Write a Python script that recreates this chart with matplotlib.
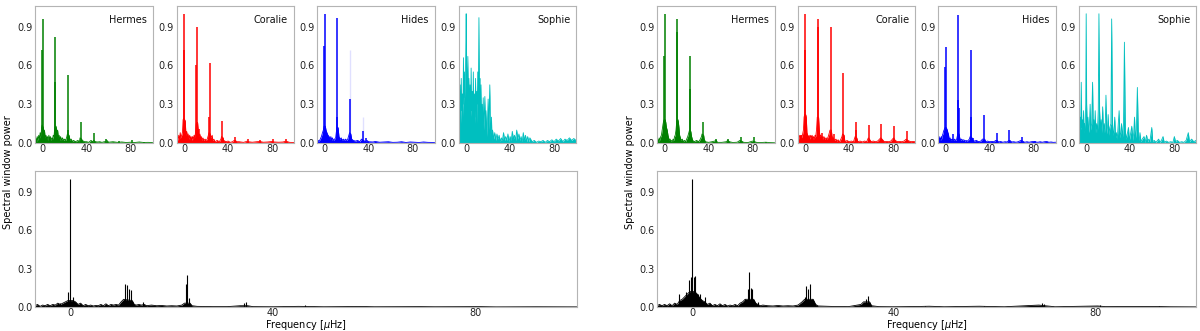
import matplotlib
matplotlib.use('Agg')
import matplotlib.pyplot as plt

# ---------------- data ----------------
site_names = ['Hermes', 'Coralie', 'Hides', 'Sophie']
site_colors = ['#008000', '#ff0000', '#0000ff', '#00bfbf']
freq_ticks = [0, 40, 80]
power_ticks = [0.0, 0.3, 0.6, 0.9]
freq_limits = (-7, 100)
power_limits = (0, 1.06)

# ---- left group ----
hermes_a_peaks = [(-0.4, 0.72), (0.0, 0.96), (11.2, 0.47), (11.6, 0.82), (22.9, 0.10), (23.2, 0.53),
                  (34.7, 0.16), (46.3, 0.08), (57.9, 0.03), (69.4, 0.015), (81.0, 0.02), (92.6, 0.01)]
hermes_a_floor = [(-7, 0.02), (-6.3, 0.04), (-5.6, 0.01), (-5, 0.05), (-4.3, 0.02), (-3.6, 0.06), (-3, 0.03),
                  (-2.3, 0.08), (-1.6, 0.05), (-1, 0.12), (-0.5, 0.14), (0.5, 0.12), (1, 0.08), (1.6, 0.10),
                  (2.3, 0.04), (3, 0.06), (3.6, 0.03), (4.3, 0.05), (5, 0.02), (5.6, 0.06), (6.3, 0.03), (7, 0.05),
                  (7.6, 0.02), (8.3, 0.04), (9, 0.03), (9.6, 0.06), (10.3, 0.05), (11, 0.12), (12.2, 0.13),
                  (13, 0.08), (13.6, 0.10), (14.3, 0.04), (15, 0.06), (15.6, 0.02), (16.3, 0.05), (17, 0.02),
                  (18, 0.04), (19, 0.02), (20, 0.03), (21, 0.02), (22, 0.05), (22.5, 0.07), (24, 0.06), (25, 0.02),
                  (26, 0.03), (27, 0.01), (28, 0.02), (30, 0.01), (32, 0.02), (33.5, 0.01), (34, 0.04), (35.5, 0.03),
                  (36, 0.02), (38, 0.01), (40, 0.01), (42, 0.005), (44, 0.02), (45.5, 0.01), (46.5, 0.02),
                  (48, 0.01), (50, 0.008), (52, 0.01), (54, 0.005), (56, 0.01), (57.5, 0.01), (58.5, 0.02),
                  (60, 0.006), (64, 0.01), (68, 0.005), (72, 0.008), (76, 0.004), (80, 0.006), (84, 0.004),
                  (88, 0.008), (92, 0.004), (96, 0.005), (100, 0.003)]

coralie_a_peaks = [(-0.4, 0.72), (0.0, 1.0), (11.2, 0.6), (11.6, 0.9), (13.5, 0.11), (22.9, 0.2), (23.2, 0.62),
                   (34.7, 0.17), (46.3, 0.05), (57.9, 0.03), (69.4, 0.02), (81.0, 0.03), (92.6, 0.03)]
coralie_a_floor = [(-7, 0.02), (-6.3, 0.04), (-5.6, 0.02), (-5, 0.06), (-4.3, 0.03), (-3.6, 0.08), (-3, 0.04),
                   (-2.3, 0.06), (-1.6, 0.08), (-1, 0.18), (-0.5, 0.19), (0.5, 0.18), (1, 0.17), (1.6, 0.06),
                   (2.3, 0.09), (3, 0.04), (3.6, 0.07), (4.3, 0.03), (5, 0.06), (5.6, 0.03), (6.3, 0.05), (7, 0.02),
                   (7.6, 0.05), (8.3, 0.03), (9, 0.06), (9.6, 0.04), (10.3, 0.08), (11, 0.15), (12.2, 0.16),
                   (13, 0.08), (13.6, 0.05), (14.3, 0.07), (15, 0.03), (15.6, 0.05), (16.3, 0.02), (17, 0.04),
                   (18, 0.02), (19, 0.03), (20, 0.02), (21, 0.03), (22, 0.06), (22.6, 0.08), (23.8, 0.07),
                   (24.5, 0.04), (25.5, 0.06), (26, 0.02), (27, 0.03), (28, 0.01), (30, 0.02), (32, 0.01),
                   (33.5, 0.03), (34, 0.05), (35.5, 0.04), (36, 0.02), (38, 0.01), (40, 0.015), (42, 0.005),
                   (44, 0.01), (45.5, 0.02), (46.5, 0.02), (48, 0.01), (50, 0.01), (54, 0.005), (56, 0.01),
                   (57.5, 0.015), (58.5, 0.01), (62, 0.006), (66, 0.01), (69, 0.012), (72, 0.006), (76, 0.008),
                   (80, 0.012), (82, 0.008), (86, 0.006), (90, 0.008), (92.5, 0.015), (96, 0.005), (100, 0.004)]

hides_a_peaks = [(-0.3, 0.75), (0.0, 1.0), (11.3, 0.2), (11.6, 0.97), (23.2, 0.34), (34.7, 0.09), (38.0, 0.04)]
hides_a_faint = [(23.2, 0.72), (34.7, 0.2)]
hides_a_floor = [(-7, 0.01), (-6, 0.02), (-5, 0.015), (-4, 0.03), (-3, 0.05), (-2, 0.08), (-1.2, 0.1),
                 (-0.6, 0.13), (0.6, 0.13), (1.2, 0.1), (2, 0.08), (3, 0.06), (4, 0.05), (5, 0.03), (5.6, 0.05),
                 (6.3, 0.02), (7, 0.04), (8, 0.02), (9, 0.03), (10, 0.04), (10.8, 0.1), (11.2, 0.12),
                 (12.2, 0.12), (13, 0.05), (14, 0.03), (15, 0.04), (16, 0.02), (17, 0.03), (18, 0.02), (19, 0.03),
                 (20, 0.02), (21, 0.03), (22, 0.06), (22.7, 0.08), (23.8, 0.07), (24.6, 0.03), (26, 0.02),
                 (28, 0.015), (30, 0.02), (32, 0.01), (33.5, 0.03), (35.5, 0.02), (37, 0.01), (38.5, 0.02),
                 (40, 0.01), (44, 0.008), (46, 0.012), (50, 0.006), (54, 0.008), (58, 0.01), (62, 0.005),
                 (66, 0.006), (70, 0.01), (74, 0.004), (78, 0.008), (82, 0.006), (86, 0.004), (90, 0.008),
                 (94, 0.005), (100, 0.004)]

sophie_a_peaks = []
sophie_a_floor = [(-7, 0.35), (-6.5, 0.58), (-6, 0.2), (-5.5, 0.45), (-5, 0.15), (-4.5, 0.5), (-4, 0.25),
                  (-3.5, 0.38), (-3, 0.2), (-2.5, 0.66), (-2, 0.3), (-1.5, 0.55), (-1, 0.35), (-0.4, 0.7),
                  (0, 1.0), (0.4, 0.6), (1, 0.4), (1.5, 0.67), (2, 0.3), (2.5, 0.5), (3, 0.25), (3.5, 0.45),
                  (4, 0.2), (4.5, 0.58), (5, 0.25), (5.5, 0.4), (6, 0.2), (6.5, 0.55), (7, 0.2), (7.5, 0.38),
                  (8, 0.15), (8.5, 0.5), (9, 0.2), (9.5, 0.4), (10, 0.15), (10.5, 0.55), (11, 0.3), (11.6, 0.97),
                  (12, 0.4), (12.5, 0.5), (13, 0.2), (13.5, 0.45), (14, 0.15), (14.5, 0.3), (15, 0.12),
                  (15.5, 0.35), (16, 0.1), (17, 0.36), (17.5, 0.1), (18, 0.25), (19, 0.05), (20, 0.34),
                  (20.5, 0.1), (21.5, 0.45), (22, 0.05), (23, 0.2), (23.5, 0.02), (24, 0.1), (25, 0.03),
                  (26, 0.08), (27, 0.02), (28, 0.07), (29, 0.03), (30, 0.06), (31, 0.01), (32, 0.04), (33, 0.02),
                  (34, 0.08), (35, 0.02), (36, 0.05), (37, 0.02), (38, 0.07), (39, 0.01), (40, 0.05), (41, 0.02),
                  (42, 0.09), (43, 0.03), (44, 0.06), (45, 0.02), (46, 0.1), (47, 0.03), (48, 0.07), (49, 0.02),
                  (50, 0.05), (51, 0.01), (52, 0.08), (53, 0.02), (54, 0.06), (55, 0.01), (56, 0.05), (57, 0.01),
                  (58, 0.04), (60, 0.01), (62, 0.02), (64, 0.005), (66, 0.015), (68, 0.01), (70, 0.02),
                  (72, 0.005), (74, 0.02), (76, 0.01), (78, 0.025), (80, 0.01), (82, 0.03), (84, 0.015),
                  (86, 0.035), (88, 0.01), (90, 0.03), (92, 0.02), (94, 0.04), (96, 0.02), (98, 0.035),
                  (100, 0.02)]

combined_a_peaks = [(-2.0, 0.035), (-0.5, 0.12), (0.0, 1.0), (0.5, 0.08), (10.8, 0.18), (11.2, 0.17),
                    (11.6, 0.14), (11.9, 0.13), (14.3, 0.04), (22.8, 0.18), (23.0, 0.25), (23.4, 0.07),
                    (34.2, 0.03), (34.7, 0.04), (46.3, 0.015)]
combined_a_floor = [(-7, 0.01), (-6.5, 0.02), (-6, 0.005), (-5.5, 0.015), (-5, 0.01), (-4.5, 0.02),
                    (-4, 0.01), (-3.5, 0.02), (-3, 0.015), (-2.5, 0.03), (-2, 0.02), (-1.5, 0.03), (-1, 0.04),
                    (-0.5, 0.05), (0.5, 0.05), (1, 0.04), (1.5, 0.02), (2, 0.03), (2.5, 0.01), (3, 0.02),
                    (3.5, 0.01), (4, 0.015), (4.5, 0.008), (5, 0.012), (5.5, 0.01), (6, 0.02), (6.5, 0.01),
                    (7, 0.025), (7.5, 0.01), (8, 0.02), (8.5, 0.015), (9, 0.02), (9.5, 0.015), (10, 0.04),
                    (10.5, 0.06), (12.2, 0.05), (12.6, 0.02), (13, 0.015), (13.5, 0.02), (14, 0.015),
                    (14.6, 0.02), (15, 0.01), (16, 0.015), (17, 0.01), (18, 0.012), (19, 0.008), (20, 0.01),
                    (21, 0.008), (22, 0.015), (22.5, 0.03), (23.6, 0.03), (24, 0.01), (25, 0.005), (28, 0.003),
                    (31, 0.003), (33.5, 0.01), (35, 0.01), (36, 0.003), (40, 0.002), (45, 0.005), (47, 0.004),
                    (50, 0.002), (57.5, 0.004), (60, 0.002), (69, 0.003), (72, 0.002), (81, 0.003), (84, 0.001),
                    (92, 0.002), (100, 0.001)]

# ---- right group ----
hermes_b_peaks = [(-0.3, 0.67), (0.0, 1.0), (11.4, 0.86), (11.6, 0.96), (23.0, 0.42), (23.2, 0.67),
                  (34.7, 0.16), (46.3, 0.03), (57.9, 0.03), (69.4, 0.05), (81.0, 0.05), (92.6, 0.01)]
hermes_b_floor = [(-7, 0.02), (-6.3, 0.03), (-5.6, 0.01), (-5, 0.04), (-4.3, 0.02), (-3.6, 0.05), (-3, 0.06),
                  (-2.3, 0.1), (-1.6, 0.14), (-1, 0.17), (-0.5, 0.18), (0.5, 0.18), (1, 0.16), (1.6, 0.12),
                  (2.3, 0.1), (3, 0.06), (3.6, 0.04), (4.3, 0.02), (5, 0.03), (5.6, 0.01), (6.3, 0.02), (7, 0.01),
                  (7.6, 0.03), (8.3, 0.02), (9, 0.05), (9.6, 0.06), (10.3, 0.1), (11, 0.17), (12.2, 0.18),
                  (13, 0.12), (13.6, 0.06), (14.3, 0.04), (15, 0.02), (16, 0.03), (17, 0.01), (18, 0.02),
                  (19, 0.01), (20, 0.03), (21, 0.05), (22, 0.08), (22.6, 0.1), (23.8, 0.09), (24.5, 0.05),
                  (25.5, 0.02), (27, 0.01), (29, 0.02), (31, 0.01), (32.5, 0.03), (33.5, 0.05), (34, 0.07),
                  (35.5, 0.06), (36, 0.03), (37, 0.01), (40, 0.005), (43, 0.01), (45.5, 0.015), (47, 0.02),
                  (48, 0.005), (52, 0.005), (56, 0.01), (57.5, 0.02), (59, 0.01), (62, 0.004), (66, 0.006),
                  (68.5, 0.02), (70, 0.015), (72, 0.005), (76, 0.004), (80, 0.015), (82, 0.01), (84, 0.004),
                  (88, 0.004), (92, 0.006), (96, 0.003), (100, 0.002)]

coralie_b_peaks = [(-4.0, 0.06), (-0.3, 0.72), (0.0, 1.0), (11.4, 0.9), (11.6, 0.96), (15.0, 0.08),
                   (23.2, 0.9), (26.0, 0.07), (34.7, 0.54), (46.0, 0.1), (46.3, 0.16), (57.9, 0.14),
                   (69.4, 0.15), (81.0, 0.13), (92.6, 0.09)]
coralie_b_floor = [(-7, 0.03), (-6.3, 0.06), (-5.6, 0.03), (-5, 0.06), (-4.3, 0.04), (-3.6, 0.06), (-3, 0.04),
                   (-2.3, 0.07), (-1.6, 0.1), (-1, 0.2), (-0.5, 0.22), (0.5, 0.22), (1, 0.2), (1.6, 0.08),
                   (2.3, 0.06), (3, 0.04), (3.6, 0.06), (4.3, 0.03), (5, 0.06), (5.6, 0.04), (6.3, 0.06), (7, 0.03),
                   (7.6, 0.05), (8.3, 0.03), (9, 0.06), (9.6, 0.05), (10.3, 0.1), (11, 0.2), (12.2, 0.2),
                   (13, 0.08), (13.6, 0.05), (14.3, 0.06), (15, 0.03), (15.6, 0.05), (16.3, 0.03), (17, 0.05),
                   (18, 0.03), (19, 0.04), (20, 0.03), (21, 0.05), (22, 0.08), (22.6, 0.1), (23.8, 0.1),
                   (24.5, 0.05), (25.5, 0.04), (26.5, 0.02), (28, 0.03), (29, 0.015), (30, 0.025), (31, 0.01),
                   (32, 0.02), (33.5, 0.05), (34, 0.07), (35.5, 0.06), (36, 0.02), (37, 0.01), (38, 0.02),
                   (40, 0.01), (42, 0.015), (44, 0.01), (45.5, 0.05), (47, 0.04), (48, 0.01), (50, 0.015),
                   (52, 0.008), (54, 0.015), (56, 0.01), (57.5, 0.04), (58.5, 0.03), (60, 0.01), (62, 0.015),
                   (64, 0.01), (66, 0.015), (68.8, 0.04), (70, 0.03), (72, 0.01), (74, 0.012), (76, 0.01),
                   (78, 0.015), (80.5, 0.04), (82, 0.02), (84, 0.01), (86, 0.012), (88, 0.01), (90, 0.015),
                   (92, 0.03), (93.5, 0.02), (96, 0.01), (98, 0.012), (100, 0.01)]

hides_b_peaks = [(-7.0, 0.09), (-0.3, 0.59), (0.0, 0.74), (6.5, 0.07), (11.3, 0.33), (11.6, 0.99),
                 (11.9, 0.27), (22.9, 0.2), (23.2, 0.72), (24.5, 0.04), (34.7, 0.22), (46.3, 0.08),
                 (57.9, 0.1), (69.4, 0.05), (81.0, 0.015)]
hides_b_floor = [(-7, 0.06), (-6.5, 0.03), (-6, 0.05), (-5.5, 0.02), (-5, 0.04), (-4.5, 0.02), (-4, 0.05),
                 (-3.5, 0.03), (-3, 0.06), (-2.5, 0.07), (-2, 0.09), (-1.5, 0.1), (-1, 0.11), (-0.5, 0.12),
                 (0.5, 0.12), (1, 0.11), (1.5, 0.1), (2, 0.08), (2.5, 0.07), (3, 0.04), (3.5, 0.03), (4, 0.04),
                 (4.5, 0.02), (5, 0.03), (5.5, 0.02), (6, 0.03), (7, 0.02), (8, 0.03), (9, 0.02), (10, 0.03),
                 (10.5, 0.05), (11, 0.07), (12.2, 0.07), (12.8, 0.04), (13.5, 0.02), (14.5, 0.03), (15.5, 0.02),
                 (16.5, 0.025), (17.5, 0.015), (18.5, 0.02), (19.5, 0.015), (20.5, 0.02), (21.5, 0.03),
                 (22.3, 0.05), (24, 0.04), (25, 0.02), (26, 0.015), (28, 0.02), (30, 0.01), (32, 0.015),
                 (33.5, 0.03), (35.5, 0.03), (36.5, 0.01), (38, 0.015), (40, 0.01), (42, 0.012), (44, 0.01),
                 (45.5, 0.02), (47, 0.02), (48, 0.008), (50, 0.012), (52, 0.006), (54, 0.01), (56, 0.008),
                 (57.5, 0.02), (58.5, 0.02), (60, 0.008), (62, 0.01), (64, 0.006), (66, 0.01), (68.5, 0.02),
                 (70, 0.015), (72, 0.006), (74, 0.01), (76, 0.006), (78, 0.01), (80, 0.012), (82, 0.008),
                 (84, 0.006), (86, 0.01), (88, 0.006), (90, 0.01), (92, 0.012), (94, 0.006), (96, 0.008),
                 (98, 0.005), (100, 0.006)]

sophie_b_peaks = []
sophie_b_floor = [(-7, 0.1), (-6.5, 0.3), (-6, 0.12), (-5.5, 0.2), (-5, 0.1), (-4.5, 0.47), (-4, 0.12),
                  (-3.5, 0.18), (-3, 0.08), (-2.4, 0.25), (-2, 0.08), (-1.5, 0.15), (-1, 0.1), (-0.4, 0.3),
                  (0, 1.0), (0.4, 0.3), (1, 0.12), (1.6, 0.2), (2.2, 0.08), (3, 0.15), (3.6, 0.3), (4.2, 0.1),
                  (5, 0.15), (5.8, 0.47), (6.4, 0.12), (7, 0.18), (7.6, 0.08), (8.2, 0.25), (8.8, 0.08),
                  (9.5, 0.15), (10.2, 0.08), (11, 0.25), (11.6, 1.0), (12.2, 0.25), (13, 0.1), (13.6, 0.18),
                  (14.3, 0.08), (15, 0.28), (15.7, 0.07), (16.4, 0.15), (17.2, 0.08), (18, 0.37), (18.7, 0.07),
                  (19.4, 0.12), (20, 0.22), (20.7, 0.06), (21.5, 0.12), (22.5, 0.15), (23.2, 0.96), (23.9, 0.15),
                  (24.6, 0.06), (25.3, 0.1), (26, 0.2), (26.7, 0.04), (27.5, 0.08), (28.3, 0.03), (29, 0.12),
                  (30, 0.25), (30.7, 0.04), (31.5, 0.08), (32.2, 0.15), (33, 0.04), (34, 0.15), (34.8, 0.78),
                  (35.6, 0.1), (36.4, 0.03), (37.2, 0.06), (38.5, 0.12), (39.3, 0.02), (40.2, 0.06), (41.5, 0.13),
                  (42.5, 0.02), (43.3, 0.08), (44, 0.2), (44.8, 0.03), (45.7, 0.1), (46.6, 0.43), (47.5, 0.05),
                  (48.3, 0.02), (49, 0.08), (49.8, 0.01), (51, 0.03), (52.7, 0.05), (53.6, 0.005), (55, 0.06),
                  (56, 0.01), (57, 0.03), (58, 0.01), (59.7, 0.12), (60.6, 0.01), (62, 0.02), (63.5, 0.005),
                  (65, 0.02), (66, 0.03), (67, 0.005), (68.5, 0.02), (70, 0.05), (71, 0.005), (73, 0.015),
                  (75, 0.005), (77, 0.01), (79, 0.005), (80.3, 0.05), (81.3, 0.01), (83, 0.02), (85, 0.005),
                  (87, 0.01), (89, 0.005), (91, 0.02), (93, 0.08), (94, 0.01), (96, 0.03), (98, 0.01),
                  (100, 0.02)]

combined_b_peaks = [(-2.6, 0.1), (-1.2, 0.12), (-0.6, 0.21), (-0.3, 0.23), (0.0, 1.0), (0.3, 0.23),
                    (0.6, 0.24), (1.1, 0.1), (1.6, 0.1), (2.6, 0.08), (10.5, 0.06), (11.0, 0.14), (11.3, 0.27),
                    (11.6, 0.15), (11.9, 0.14), (13.0, 0.04), (22.3, 0.08), (22.6, 0.16), (23.0, 0.14),
                    (23.4, 0.18), (23.8, 0.06), (34.5, 0.06), (34.8, 0.085), (46.3, 0.01), (57.9, 0.008),
                    (69.4, 0.03), (69.8, 0.025), (81.0, 0.012), (92.6, 0.008)]
combined_b_floor = [(-7, 0.01), (-6.5, 0.02), (-6, 0.01), (-5.5, 0.02), (-5, 0.01), (-4.5, 0.025), (-4, 0.01),
                    (-3.5, 0.03), (-3, 0.02), (-2.5, 0.05), (-2, 0.06), (-1.5, 0.08), (-1, 0.1), (-0.5, 0.12),
                    (0.5, 0.12), (1, 0.1), (1.5, 0.07), (2, 0.05), (2.5, 0.04), (3, 0.02), (3.5, 0.03), (4, 0.01),
                    (4.5, 0.02), (5, 0.01), (5.5, 0.025), (6, 0.01), (6.5, 0.02), (7, 0.008), (7.5, 0.015),
                    (8, 0.01), (8.5, 0.02), (9, 0.01), (9.5, 0.03), (10, 0.04), (10.5, 0.06), (12.2, 0.06),
                    (12.6, 0.03), (13, 0.02), (13.5, 0.01), (14, 0.015), (15, 0.01), (16, 0.008), (17, 0.012),
                    (18, 0.008), (19, 0.01), (20, 0.008), (21, 0.015), (21.8, 0.04), (22.3, 0.06), (24, 0.06),
                    (24.5, 0.02), (25, 0.008), (28, 0.004), (31, 0.003), (33.5, 0.02), (34, 0.04), (35.2, 0.04),
                    (35.6, 0.01), (37, 0.003), (40, 0.002), (45, 0.004), (47, 0.006), (50, 0.002), (57, 0.006),
                    (59, 0.004), (62, 0.002), (68.8, 0.015), (70, 0.01), (72, 0.002), (80.5, 0.008), (82, 0.003),
                    (92, 0.004), (95, 0.002), (100, 0.001)]

group_a = [(hermes_a_floor, hermes_a_peaks), (coralie_a_floor, coralie_a_peaks),
           (hides_a_floor, hides_a_peaks), (sophie_a_floor, sophie_a_peaks)]
group_b = [(hermes_b_floor, hermes_b_peaks), (coralie_b_floor, coralie_b_peaks),
           (hides_b_floor, hides_b_peaks), (sophie_b_floor, sophie_b_peaks)]

# ---------------- figure ----------------
W, H = 1200, 331
fig = plt.figure(figsize=(W / 100, H / 100), dpi=100)
plt.rcParams['font.family'] = ['DejaVu Sans']

SPINE = '#b4b4b4'


def add_ax(x0, x1, y0, y1):
    return fig.add_axes([x0 / W, 1 - y1 / H, (x1 - x0) / W, (y1 - y0) / H])


def style(ax):
    ax.set_xlim(*freq_limits)
    ax.set_ylim(*power_limits)
    ax.set_xticks(freq_ticks)
    ax.set_yticks(power_ticks)
    ax.set_yticklabels(['%.1f' % v for v in power_ticks])
    ax.tick_params(length=0, labelsize=7, pad=2, colors='#222222')
    ax.tick_params(axis='x', pad=1)
    for s in ax.spines.values():
        s.set_color(SPINE)
        s.set_linewidth(0.8)


def draw(ax, floor, peaks, color, peak_lw=1.1):
    fx = [p[0] for p in floor]
    fy = [p[1] for p in floor]
    ax.fill_between(fx, 0, fy, color=color, linewidth=0)
    ax.plot(fx, fy, color=color, linewidth=0.6)
    if peaks:
        ax.vlines([p[0] for p in peaks], 0, [p[1] for p in peaks], color=color, linewidth=peak_lw)


top_y = (6, 143)
bot_y = (171, 307)
width = 117.5
groups = [
    (group_a, [35, 176.5, 317, 458.5], (35, 577), combined_a_floor, combined_a_peaks, 8),
    (group_b, [657, 797.5, 938, 1078.5], (657, 1196), combined_b_floor, combined_b_peaks, 630),
]

for gi, (grp, lefts, bx, cfloor, cpeaks, ylab_x) in enumerate(groups):
    for i, ((floor, peaks), x0) in enumerate(zip(grp, lefts)):
        ax = add_ax(x0, x0 + width, *top_y)
        draw(ax, floor, peaks, site_colors[i])
        if gi == 0 and i == 2:
            ax.vlines([p[0] for p in hides_a_faint], 0, [p[1] for p in hides_a_faint],
                      color=site_colors[i], linewidth=1.0, alpha=0.12)
        style(ax)
        ax.text(0.95, 0.9, site_names[i], transform=ax.transAxes, ha='right', va='center',
                fontsize=7, color='#111111')
    axb = add_ax(bx[0], bx[1], *bot_y)
    draw(axb, cfloor, cpeaks, 'black', peak_lw=0.8)
    style(axb)
    fig.text((bx[0] + bx[1]) / 2 / W, 1 - 325.5 / H, 'Frequency [$\\mu$Hz]',
             ha='center', va='center', fontsize=7)
    fig.text(ylab_x / W, 1 - 172 / H, 'Spectral window power', rotation=90,
             ha='center', va='center', fontsize=7)

fig.savefig('out.png', dpi=100)
